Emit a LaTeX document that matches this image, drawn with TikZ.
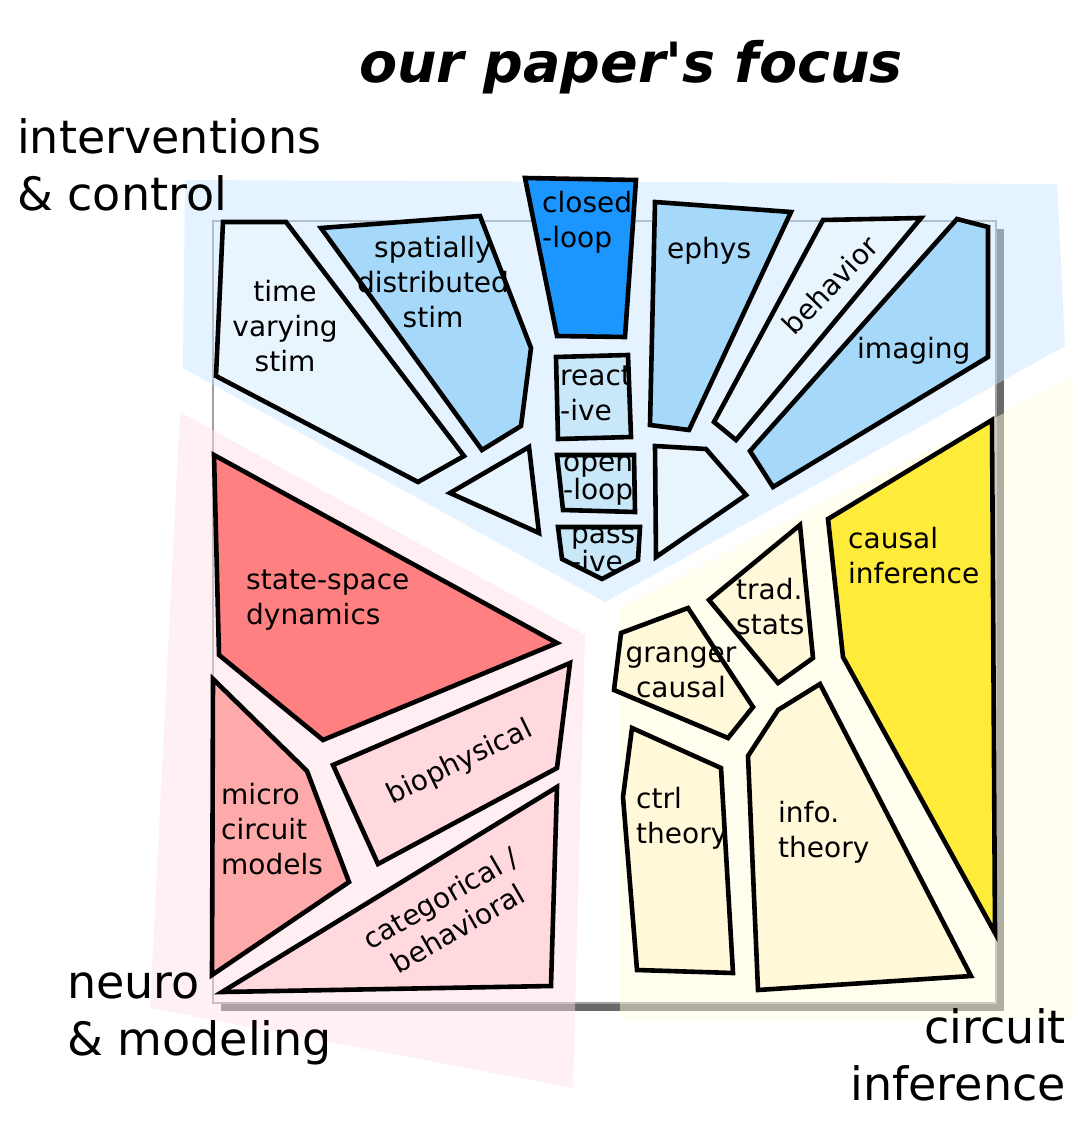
\documentclass[tikz,border=0pt]{standalone}
\usepackage{fontspec}
\setmainfont{DejaVu Sans}
\newfontfamily\titlefont{DejaVu Sans Bold Oblique}
\definecolor{blueveil}{RGB}{200,228,255}
\definecolor{pinkveil}{RGB}{255,223,230}
\definecolor{yellowveil}{RGB}{255,253,223}
\definecolor{palecell}{RGB}{233,245,252}
\definecolor{skycell}{RGB}{166,216,250}
\definecolor{deepcell}{RGB}{27,150,255}
\definecolor{icecell}{RGB}{200,232,250}
\definecolor{salmoncell}{RGB}{255,128,128}
\definecolor{rosecell}{RGB}{255,170,170}
\definecolor{blushcell}{RGB}{255,217,221}
\definecolor{creamcell}{RGB}{255,249,218}
\definecolor{goldcell}{RGB}{255,235,58}
\definecolor{shadowgray}{RGB}{105,105,105}
\definecolor{framegray}{RGB}{160,160,160}
\begin{document}
\begin{tikzpicture}[x=1pt,y=-1pt,
  cell/.style={draw=black,line width=4.6pt,line join=miter,miter limit=6},
  veil/.style={fill opacity=0.47},
  lbl/.style={font=\fontsize{28}{35}\selectfont,inner sep=0pt},
  tightlbl/.style={font=\fontsize{28}{24}\selectfont,inner sep=0pt},
  biglbl/.style={font=\fontsize{46}{57}\selectfont,inner sep=0pt},
  titlelbl/.style={font=\fontsize{55.5}{60}\selectfont\titlefont,inner sep=0pt}]
\useasboundingbox (0,0) rectangle (1078,1132);

% frame with drop shadow
\fill[shadowgray] (221,229) rectangle (1004,1011);
\draw[framegray,fill=white,line width=1.5pt] (213,221) rectangle (996,1003);

% translucent group areas
\fill[blueveil,veil] (185,180) -- (1057,184) -- (1065,346) -- (605,602) -- (183,368) -- cycle;
\fill[pinkveil,veil] (180,412) -- (585,635) -- (573,1088) -- (150,1008) -- cycle;
\fill[yellowveil,veil] (620,606) -- (1074,378) -- (1074,1020) -- (620,1020) -- cycle;

% interventions & control cells
\path[cell,fill=palecell] (223,222) -- (286,222) -- (464,456) -- (418,482) -- (216,376) -- cycle;
\node[lbl,align=center] (timevar) at (285,326) {time\\varying\\stim};

\path[cell,fill=skycell] (321,228) -- (480,216) -- (531,348) -- (521,426) -- (482,450) -- cycle;
\node[lbl,align=center] (spatial) at (433,282) {spatially\\distributed\\stim};

\path[cell,fill=deepcell] (525,178) -- (636,180) -- (625,337) -- (557,336) -- cycle;
\node[lbl,align=left,anchor=west] (closed) at (542,222) {closed\\-loop};

\path[cell,fill=palecell] (450,493) -- (529,447) -- (539,533) -- cycle;

\fill[icecell] (556,357) -- (628,355) -- (631,437) -- (558,439) -- cycle;
\begin{scope}
  \clip (556,357) -- (628,355) -- (631,437) -- (558,439) -- cycle;
  \node[lbl,align=left,anchor=west] (reactive) at (560,393) {react\\-ive};
\end{scope}
\draw[cell] (556,357) -- (628,355) -- (631,437) -- (558,439) -- cycle;

\fill[icecell] (557,455) -- (634,455) -- (635,512) -- (563,510) -- cycle;
\begin{scope}
  \clip (557,455) -- (634,455) -- (635,512) -- (563,510) -- cycle;
  \node[tightlbl,align=left,anchor=west] (openloop) at (563,481) {open\\-loop};
\end{scope}
\draw[cell] (557,455) -- (634,455) -- (635,512) -- (563,510) -- cycle;

\fill[icecell] (558,527) -- (640,527) -- (638,560) -- (602,579) -- (562,559) -- cycle;
\begin{scope}
  \clip (558,527) -- (640,527) -- (638,560) -- (602,579) -- (562,559) -- cycle;
  \node[tightlbl,align=left,anchor=west] (passive) at (571,550) {pass\\-ive};
\end{scope}
\draw[cell] (558,527) -- (640,527) -- (638,560) -- (602,579) -- (562,559) -- cycle;

\path[cell,fill=skycell] (655,202) -- (791,212) -- (689,430) -- (650,425) -- cycle;
\node[lbl,anchor=west] (ephys) at (667,251) {ephys};

\path[cell,fill=palecell] (655,446) -- (706,449) -- (746,495) -- (656,557) -- cycle;

\path[cell,fill=palecell] (823,220) -- (921,218) -- (736,440) -- (714,422) -- cycle;
\node[lbl,rotate=46] (behavior) at (830,285) {behavior};

\path[cell,fill=skycell] (957,219) -- (988,227) -- (988,357) -- (773,487) -- (750,451) -- cycle;
\node[lbl,anchor=west] (imaging) at (857,351) {imaging};

% neuro & modeling cells
\path[cell,fill=salmoncell] (214,455) -- (557,643) -- (323,740) -- (219,655) -- cycle;
\node[lbl,align=left,anchor=west] (statespace) at (246,600) {state-space\\dynamics};

\path[cell,fill=rosecell] (213,679) -- (307,771) -- (349,882) -- (212,975) -- cycle;
\node[lbl,align=left,anchor=west] (micro) at (221,829) {micro\\circuit\\models};

\path[cell,fill=blushcell] (333,765) -- (570,663) -- (557,768) -- (378,864) -- cycle;
\node[lbl,rotate=26] (biophys) at (460,763) {biophysical};

\path[cell,fill=blushcell] (557,787) -- (551,986) -- (222,992) -- cycle;
\node[lbl,align=center,rotate=30] (categ) at (449,913) {categorical /\\behavioral};

% circuit inference cells
\path[cell,fill=creamcell] (621,633) -- (688,608) -- (753,707) -- (728,738) -- (614,690) -- cycle;
\node[lbl,align=center] (granger) at (681,672) {granger\\causal};

\path[cell,fill=creamcell] (709,600) -- (800,525) -- (813,658) -- (778,683) -- cycle;
\node[lbl,align=left,anchor=west] (tradstats) at (736,607) {trad.\\stats};

\path[cell,fill=creamcell] (632,728) -- (721,768) -- (733,973) -- (637,970) -- (623,797) -- cycle;
\node[lbl,align=left,anchor=west] (ctrl) at (636,818) {ctrl\\theory};

\path[cell,fill=creamcell] (778,710) -- (820,684) -- (971,976) -- (758,990) -- (748,756) -- cycle;
\node[lbl,align=left,anchor=west] (info) at (778,832) {info.\\theory};

\path[cell,fill=goldcell] (828,519) -- (992,420) -- (995,933) -- (843,657) -- cycle;
\node[lbl,align=left,anchor=west] (causal) at (848,556) {causal\\inference};

% headings
\node[titlelbl,anchor=base] (title) at (631,82) {our paper's focus};
\node[biglbl,align=left,anchor=west] (interv) at (17,165) {interventions\\\& control};
\node[biglbl,align=left,anchor=west] (neuro) at (67,1019) {neuro\\\& modeling};
\node[biglbl,align=right,anchor=east] (circuit) at (1066,1055) {circuit\\inference};
\end{tikzpicture}
\end{document}
